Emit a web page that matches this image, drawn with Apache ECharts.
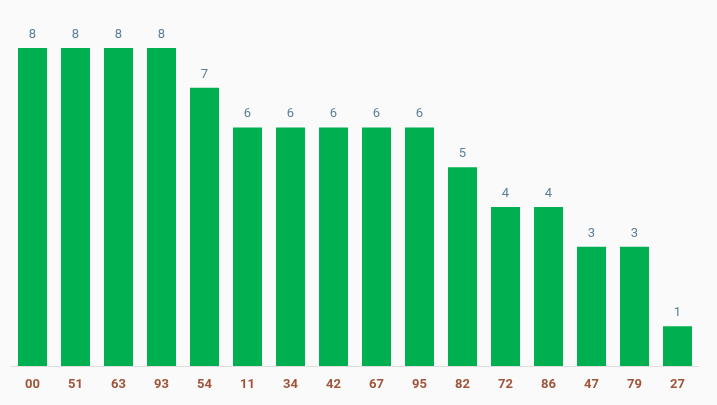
<!DOCTYPE html>
<html><head><meta charset="utf-8">
<script src="https://cdn.jsdelivr.net/npm/echarts@6/dist/echarts.min.js"></script>
<style>html,body{margin:0;background:#fafafa}#c{width:717px;height:405px}</style>
</head><body><div id="c"></div>
<script>
const categories = ['00','51','63','93','54','11','34','42','67','95','82','72','86','47','79','27']
const values = [8,8,8,8,7,6,6,6,6,6,5,4,4,3,3,1]

const chart = echarts.init(document.getElementById('c'))
chart.setOption({
    backgroundColor: '#fafafa',
    animation: false,
    grid: { left: 11, right: 18, top: 48, bottom: 39 },
    xAxis: {
        type: 'category',
        data: categories,
        axisTick: { show: false },
        axisLine: { lineStyle: { color: '#dddddd' } },
        axisLabel: { color: '#a0553a', fontWeight: 'bold', fontSize: 13, fontFamily: 'Roboto', margin: 12 }
    },
    yAxis: { type: 'value', min: 0, max: 8, show: false, splitLine: { show: false } },
    series: [{
        type: 'bar',
        data: values,
        barWidth: 29,
        itemStyle: { color: '#00b050' },
        label: { show: true, position: 'top', color: '#5a7f99', fontSize: 13, fontFamily: 'Roboto', distance: 7 }
    }]
})
</script></body></html>
